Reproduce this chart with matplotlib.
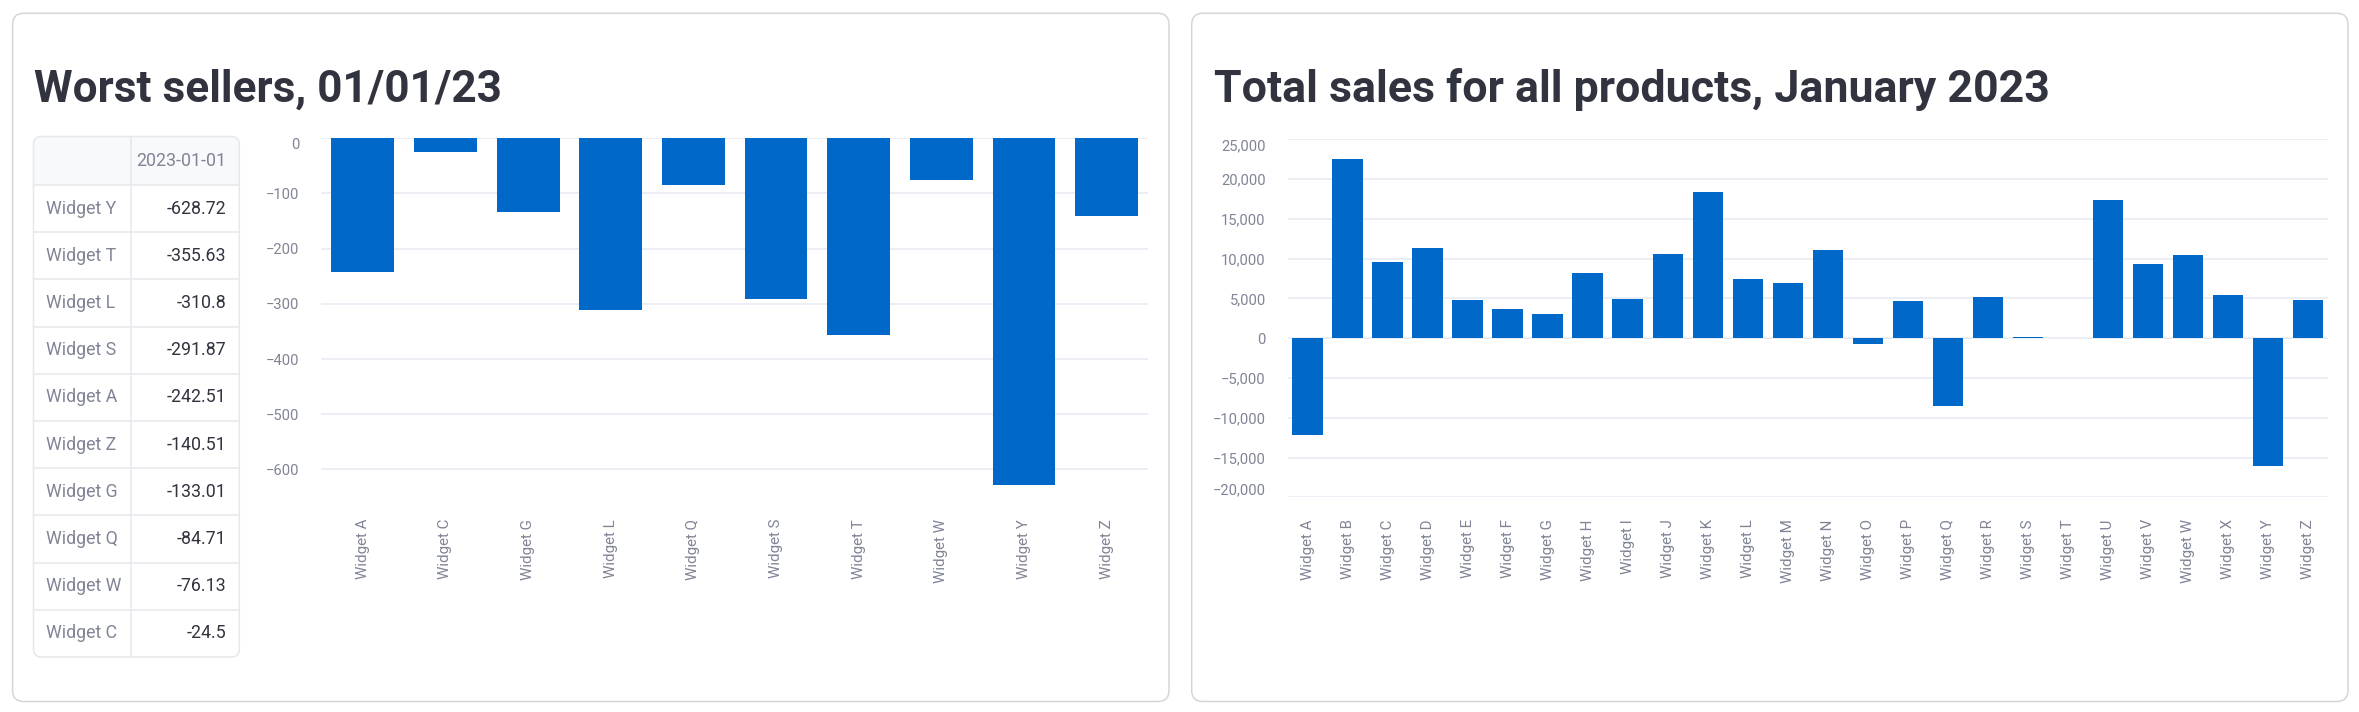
import matplotlib
matplotlib.use("Agg")
import matplotlib.pyplot as plt
from matplotlib.patches import FancyBboxPatch, Rectangle
from matplotlib.lines import Line2D
from matplotlib.transforms import IdentityTransform
from matplotlib.ticker import FuncFormatter

W, H = 2359, 712

# worst sellers on 01/01/23, in table order
worst_names = ["Widget Y", "Widget T", "Widget L", "Widget S", "Widget A",
               "Widget Z", "Widget G", "Widget Q", "Widget W", "Widget C"]
worst_values = [-628.72, -355.63, -310.8, -291.87, -242.51,
                -140.51, -133.01, -84.71, -76.13, -24.5]
table_header = "2023-01-01"
worst_ticks = [-600, -500, -400, -300, -200, -100, 0]

# total sales for all products, January 2023
products = [f"Widget {c}" for c in "ABCDEFGHIJKLMNOPQRSTUVWXYZ"]
total_sales = [-12180, 22480, 9540, 11340, 4750, 3700, 2980, 8240, 4870,
               10630, 18360, 7480, 6930, 11050, -760, 4710, -8530, 5130,
               170, 0, 17350, 9290, 10500, 5460, -16090, 4830]
sales_ticks = [-20000, -15000, -10000, -5000, 0, 5000, 10000, 15000,
               20000, 25000]

BLUE = "#0068c9"
GRID = "#e6eaf1"
LABEL = "#808495"
TEXT = "#31333f"
EDGE = "#d6d6d9"
TABLE_EDGE = "#e6e8ec"
HEADER_BG = "#f8f9fb"

plt.rcParams["font.family"] = ["Roboto", "DejaVu Sans"]

fig = plt.figure(figsize=(W / 100, H / 100), dpi=100)
PIX = IdentityTransform()


def rbox(x0, y0, x1, y1, r, **kw):
    # box in image pixel coords (origin top-left)
    p = FancyBboxPatch((x0, H - y1), x1 - x0, y1 - y0,
                       boxstyle=f"round,pad=0,rounding_size={r}",
                       transform=PIX, **kw)
    fig.add_artist(p)
    return p


def hline(x0, x1, y, clip=None, color=TABLE_EDGE):
    ln = Line2D([x0, x1], [H - y, H - y], transform=PIX, color=color,
                lw=1.1, zorder=-0.5)
    fig.add_artist(ln)
    if clip is not None:
        ln.set_clip_path(clip)


# ------------------------------------------------------------------ #
# cards + titles
# ------------------------------------------------------------------ #
rbox(12.6, 13.3, 1169, 701.5, 11, fc="white", ec=EDGE, lw=1.1, zorder=-2)
rbox(1191.7, 13.3, 2348, 701.5, 11, fc="white", ec=EDGE, lw=1.1, zorder=-2)

fig.text(33.5 / W, 1 - 102 / H, "Worst sellers, 01/01/23", fontsize=31.8,
         fontweight="semibold", color=TEXT, va="baseline")
fig.text(1214.4 / W, 1 - 102 / H, "Total sales for all products, January 2023",
         fontsize=32.2, fontweight="semibold", color=TEXT, va="baseline")

# ------------------------------------------------------------------ #
# table of worst sellers
# ------------------------------------------------------------------ #
TX0, TX1, TDIV = 33.5, 239.3, 130.7
TY0, HEAD_B, ROW_H = 136.5, 185.0, 47.2
TY1 = HEAD_B + ROW_H * len(worst_names)

outer = rbox(TX0, TY0, TX1, TY1, 8, fc="white", ec="none", zorder=-1)
head = Rectangle((TX0, H - HEAD_B), TX1 - TX0, HEAD_B - TY0, transform=PIX,
                 fc=HEADER_BG, ec="none", zorder=-0.8)
fig.add_artist(head)
head.set_clip_path(outer)

hline(TX0, TX1, HEAD_B, clip=outer)
for i in range(1, len(worst_names)):
    hline(TX0, TX1, HEAD_B + i * ROW_H, clip=outer)
div = Line2D([TDIV, TDIV], [H - TY0, H - TY1], transform=PIX,
             color=TABLE_EDGE, lw=1.1, zorder=-0.5)
fig.add_artist(div)
rbox(TX0, TY0, TX1, TY1, 8, fc="none", ec=TABLE_EDGE, lw=1.1, zorder=-0.4)

fig.text(226.6 / W, 1 - (TY0 + HEAD_B) / 2 / H, table_header, fontsize=12.8,
         color=LABEL, ha="right", va="center")
for i, (name, val) in enumerate(zip(worst_names, worst_values)):
    yc = HEAD_B + (i + 0.5) * ROW_H
    fig.text(46 / W, 1 - yc / H, name, fontsize=12.8, color=LABEL,
             ha="left", va="center")
    fig.text(226.6 / W, 1 - yc / H, str(val), fontsize=12.8, color=TEXT,
             ha="right", va="center")


# ------------------------------------------------------------------ #
# bar charts
# ------------------------------------------------------------------ #
def style(ax, ticks, fmt):
    ax.set_facecolor("none")
    for s in ax.spines.values():
        s.set_visible(False)
    ax.set_yticks(ticks)
    ax.yaxis.set_major_formatter(FuncFormatter(fmt))
    ax.yaxis.grid(True, color=GRID, lw=1.1)
    ax.set_axisbelow(True)
    ax.tick_params(axis="both", length=0, pad=15.8, colors=LABEL)
    ax.tick_params(axis="y", labelsize=10.6)
    ax.tick_params(axis="x", labelsize=10.9)


def fmt_plain(v, _):
    return f"{v:.0f}".replace("-", "\u2212")


def fmt_comma(v, _):
    return f"{v:,.0f}".replace("-", "\u2212")


# worst sellers, alphabetical
order = sorted(zip(worst_names, worst_values))
ax1 = fig.add_axes([321.5 / W, (H - 497) / H, (1148 - 321.5) / W, (497 - 138.3) / H])
ax1.bar(range(len(order)), [v for _, v in order], width=0.76, color=BLUE)
ax1.set_xlim(-0.5, len(order) - 0.5)
ax1.set_ylim(-650, 0)
style(ax1, worst_ticks, fmt_plain)
ax1.set_xticks(range(len(order)))
ax1.set_xticklabels([n for n, _ in order], rotation=90, ha="center", va="top")
ax1.yaxis.get_major_ticks()[-1].label1.set_va("top")

ax2 = fig.add_axes([1287.7 / W, (H - 497.3) / H, (2328 - 1287.7) / W, (497.3 - 139.3) / H])
ax2.bar(range(len(products)), total_sales, width=0.765, color=BLUE)
ax2.set_xlim(-0.5, len(products) - 0.5)
ax2.set_ylim(sales_ticks[0], sales_ticks[-1])
style(ax2, sales_ticks, fmt_comma)
ax2.set_xticks(range(len(products)))
ax2.set_xticklabels(products, rotation=90, ha="center", va="top")
yt = ax2.yaxis.get_major_ticks()
yt[0].label1.set_va("bottom")
yt[-1].label1.set_va("top")

fig.savefig("out.png", dpi=100)
